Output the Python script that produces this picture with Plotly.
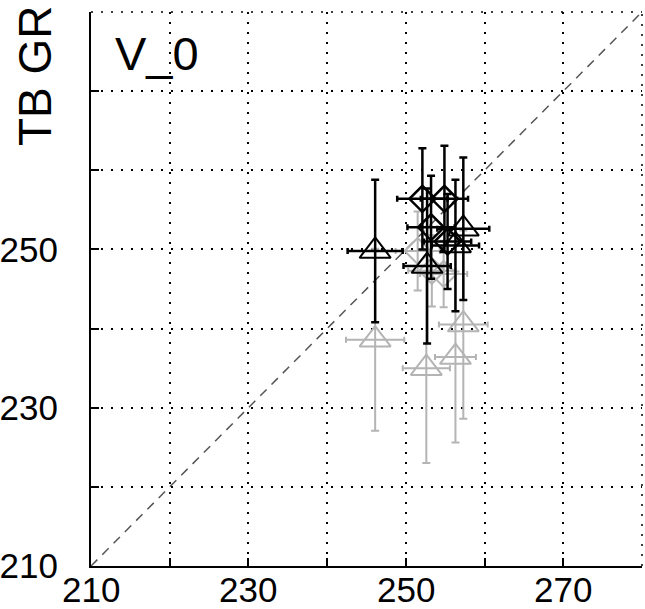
import plotly.graph_objects as go

# ---- data ----
black_tri_x = [246.1, 252.7, 256.3, 257.3]
black_tri_y = [249.8, 247.9, 250.5, 252.6]
black_tri_xerr = [3.5, 3.0, 3.0, 3.3]
black_tri_yerr = [9.0, 9.8, 8.3, 9.0]

black_dia_x = [252.1, 254.9, 253.2, 255.3]
black_dia_y = [256.4, 256.4, 252.8, 251.0]
black_dia_xerr = [3.2, 3.0, 3.0, 3.0]
black_dia_yerr = [6.4, 6.7, 6.5, 6.0]

gray_tri_x = [246.1, 252.6, 256.3, 257.3]
gray_tri_y = [238.6, 235.0, 236.4, 240.5]
gray_tri_xerr = [3.7, 3.0, 2.6, 3.1]
gray_tri_yerr = [11.5, 12.0, 10.8, 11.9]

gray_dia_x = [251.5, 253.3, 254.8]
gray_dia_y = [249.8, 247.3, 246.9]
gray_dia_xerr = [2.8, 3.0, 3.0]
gray_dia_yerr = [5.0, 4.5, 4.2]

axis_min, axis_max = 210, 280
tick_vals = [210, 220, 230, 240, 250, 260, 270, 280]
x_tick_text = ["210", "", "230", "", "250", "", "270", ""]
y_tick_text = ["210", "", "230", "", "250", "", "", ""]

BLACK = "#000000"
GRAY = "#b4b4b4"
FONT = "Liberation Sans, Arial, sans-serif"

fig = go.Figure()

# 1:1 reference line
fig.add_trace(go.Scatter(
    x=[axis_min, axis_max], y=[axis_min, axis_max], mode="lines",
    line=dict(color="#555555", width=1.5, dash="9px,7px"),
    hoverinfo="skip", showlegend=False))


def add_series(xs, ys, xe, ye, symbol, size, color, thick, ethick):
    fig.add_trace(go.Scatter(
        x=xs, y=ys, mode="markers",
        marker=dict(symbol=symbol, size=size, color=color,
                    line=dict(color=color, width=thick)),
        error_x=dict(type="data", array=xe, visible=True, color=color,
                     thickness=ethick, width=3),
        error_y=dict(type="data", array=ye, visible=True, color=color,
                     thickness=ethick, width=4),
        showlegend=False))


add_series(gray_dia_x, gray_dia_y, gray_dia_xerr, gray_dia_yerr,
           "diamond-open", 20, GRAY, 2, 2)
add_series(gray_tri_x, gray_tri_y, gray_tri_xerr, gray_tri_yerr,
           "triangle-up-open", 27, GRAY, 2, 2)
add_series(black_dia_x, black_dia_y, black_dia_xerr, black_dia_yerr,
           "diamond-open", 20, BLACK, 2.5, 2.5)
add_series(black_tri_x, black_tri_y, black_tri_xerr, black_tri_yerr,
           "triangle-up-open", 27, BLACK, 2, 2.5)

axis_common = dict(
    range=[axis_min, axis_max], tickmode="array", tickvals=tick_vals,
    showgrid=True, gridcolor="#000000", gridwidth=1.5, griddash="2px,8px",
    showline=True, linecolor="#000000", linewidth=2,
    ticks="inside", ticklen=8, tickwidth=1.5, tickcolor="#000000",
    zeroline=False, automargin=False,
    tickfont=dict(family=FONT, size=35, color="#000000"),
)

# x tick labels drawn as annotations so they sit a little higher
fig.update_xaxes(ticktext=[""] * len(tick_vals), **axis_common)
fig.update_yaxes(ticktext=y_tick_text, ticklabelstandoff=24, **axis_common)

for tv, tt in zip(tick_vals, x_tick_text):
    if tt:
        fig.add_annotation(text=tt, xref="x", yref="paper", x=tv, y=0,
                           yshift=-23, xanchor="center", yanchor="middle",
                           showarrow=False,
                           font=dict(family=FONT, size=35, color="#000000"))

# dotted frame on top and right
fig.add_shape(type="line", xref="paper", yref="paper", x0=0, x1=1, y0=1, y1=1,
              line=dict(color="#000000", width=1.5, dash="2px,8px"))
fig.add_shape(type="line", xref="paper", yref="paper", x0=1, x1=1, y0=0, y1=1,
              line=dict(color="#000000", width=1.5, dash="2px,8px"))

fig.add_annotation(text="V_0", xref="paper", yref="paper",
                   x=(113 - 91) / 551, y=1 - (54 - 12) / 554,
                   xanchor="left", yanchor="middle", showarrow=False,
                   font=dict(family=FONT, size=47, color="#000000"))

fig.add_annotation(text="TB GR", xref="paper", yref="paper",
                   x=(35 - 91) / 551, y=1 - (76 - 12) / 554,
                   xanchor="center", yanchor="middle", showarrow=False,
                   textangle=-90,
                   font=dict(family=FONT, size=46, color="#000000"))

fig.update_layout(
    width=645, height=609,
    margin=dict(l=91, r=3, t=12, b=43),
    paper_bgcolor="white", plot_bgcolor="white",
    showlegend=False,
)

fig.write_html("out.html",
               config={"displayModeBar": False},
               post_script="document.body.style.margin='0';"
                           "document.body.style.overflow='hidden';")
